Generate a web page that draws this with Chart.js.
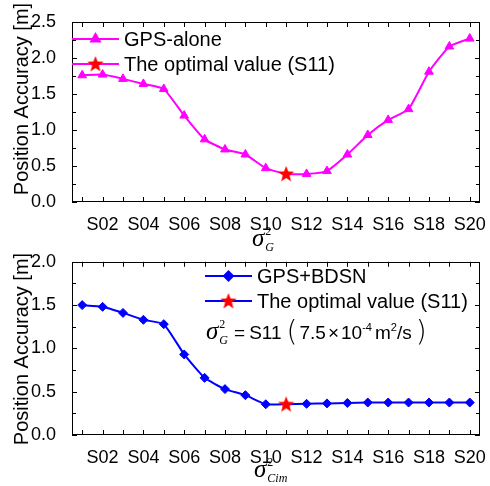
<!DOCTYPE html>
<html lang="en">
<head>
  <meta charset="UTF-8" />
  <title>Position Accuracy vs process noise</title>
  <script src="https://cdn.jsdelivr.net/npm/chart.js"></script>
  <style>
    body { margin: 0; background: #fff; font-family: 'Liberation Sans', Arial, sans-serif; }
    #wrap { position: relative; width: 490px; height: 486px; }
    .box { position: absolute; left: 0; width: 490px; height: 243px; }
    #topBox { top: 0; }
    #botBox { top: 243px; }
    .math { position: absolute; white-space: nowrap; color: #000; line-height: 20px; }
    .sig { font-family: 'Liberation Serif', serif; font-style: italic; font-size: 25px; }
    .sup { position: relative; top: -11px; margin-left: 1px; font-family: 'Liberation Serif', serif; font-size: 12px; }
    .sub { position: relative; top: 5px; font-family: 'Liberation Serif', serif; font-style: italic; font-size: 12px; }
    .txt { font-size: 19px; }
    .par { font-family: 'DejaVu Sans', sans-serif; font-weight: 200; font-size: 28px; position: relative; top: 2px; }
    .tsup { position: relative; top: -8px; font-size: 11px; }
  </style>
</head>
<body>
  <div id="wrap">
    <div class="box" id="topBox"><canvas id="topChart" width="490" height="243"></canvas></div>
    <div class="box" id="botBox"><canvas id="botChart" width="490" height="243"></canvas></div>

    <!-- axis titles and note, with sub/superscripts -->
    <div class="math" style="left:252px; top:228px;">
      <span class="sig">σ</span><span class="sup">2</span><span class="sub" style="margin-left:-6px;">G</span>
    </div>
    <div class="math" style="left:254px; top:459px;">
      <span class="sig">σ</span><span class="sup">2</span><span class="sub" style="margin-left:-6px;">Cim</span>
    </div>
    <div class="math" style="left:206px; top:320px;">
      <span class="sig">σ</span><span class="sup">2</span><span class="sub" style="margin-left:-6px;">G</span><span class="txt" style="margin-left:6px;">=</span><span class="txt" style="margin-left:4px;">S11</span><span class="par" style="margin-left:5px;">(</span><span class="txt" style="margin-left:2px;">7.5</span><span class="txt" style="margin:0 2px;">×</span><span class="txt">10</span><span class="tsup">-4</span><span class="txt" style="margin-left:3px;">m</span><span class="tsup">2</span><span class="txt">/s</span><span class="par" style="margin-left:4px;">)</span>
    </div>
  </div>

  <script>
    const catLabels = ["S01", "S02", "S03", "S04", "S05", "S06", "S07", "S08", "S09", "S10",
                       "S11", "S12", "S13", "S14", "S15", "S16", "S17", "S18", "S19", "S20"];
    const gpsAlone = [1.76, 1.77, 1.71, 1.64, 1.57, 1.20, 0.87, 0.73, 0.66, 0.47,
                      0.39, 0.39, 0.43, 0.66, 0.93, 1.14, 1.29, 1.81, 2.16, 2.27];
    const gpsBdsn = [1.50, 1.48, 1.41, 1.33, 1.28, 0.93, 0.66, 0.53, 0.46, 0.355,
                     0.355, 0.36, 0.365, 0.37, 0.375, 0.375, 0.375, 0.375, 0.375, 0.375];
    const optimalCat = "S11";
    const topTicks = [0.0, 0.5, 1.0, 1.5, 2.0, 2.5];
    const botTicks = [0.0, 0.5, 1.0, 1.5, 2.0];

    const FONT = "'Liberation Sans', Arial, sans-serif";

    // red filled star used as point style
    const star = document.createElement("canvas");
    star.width = 18; star.height = 18;
    (() => {
      const c = star.getContext("2d");
      c.beginPath();
      for (let i = 0; i < 10; i++) {
        const r = i % 2 === 0 ? 8.5 : 3.6;
        const a = -Math.PI / 2 + i * Math.PI / 5;
        c.lineTo(9 + r * Math.cos(a), 9.5 + r * Math.sin(a));
      }
      c.closePath();
      c.fillStyle = "#ff0000";
      c.fill();
    })();

    const onlyOptimal = arr => arr.map((v, i) => catLabels[i] === optimalCat ? v : null);

    // frame box plus inward ticks (majors and minors)
    const frameTicks = {
      id: "frameTicks",
      afterDraw(chart) {
        const { ctx, chartArea: a, scales: { x, y } } = chart;
        ctx.save();
        ctx.strokeStyle = "#000";
        ctx.lineWidth = 1;
        ctx.strokeRect(Math.round(a.left) + 0.5, Math.round(a.top) + 0.5,
          Math.round(a.right - a.left) - 1, Math.round(a.bottom - a.top) - 1);
        ctx.beginPath();
        x.ticks.forEach((t, i) => {
          const px = Math.round(x.getPixelForTick(i)) + 0.5;
          ctx.moveTo(px, a.bottom); ctx.lineTo(px, a.bottom - 5);
          ctx.moveTo(px, a.top); ctx.lineTo(px, a.top + 5);
        });
        for (let k = 0; k <= Math.round((y.max - y.min) / 0.25); k++) {
          const v = y.min + k * 0.25;
          const py = Math.round(y.getPixelForValue(v)) + 0.5;
          const len = k % 2 === 0 ? 5 : 4;
          ctx.moveTo(a.left, py); ctx.lineTo(a.left + len, py);
          ctx.moveTo(a.right, py); ctx.lineTo(a.right - len, py);
        }
        ctx.stroke();
        ctx.restore();
      }
    };

    // legend inside plot + rotated y title
    const decor = {
      id: "decor",
      afterDraw(chart, args, opts) {
        const { ctx } = chart;
        ctx.save();
        opts.items.forEach((it, i) => {
          const yy = opts.y + i * opts.dy;
          ctx.strokeStyle = it.color;
          ctx.lineWidth = 2;
          ctx.beginPath();
          ctx.moveTo(opts.x, yy); ctx.lineTo(opts.x + opts.len, yy);
          ctx.stroke();
          ctx.fillStyle = it.color;
          Chart.helpers.drawPoint(ctx, { pointStyle: it.style, radius: it.radius, rotation: 0, borderWidth: 1 },
            opts.x + opts.len / 2, yy);
          ctx.fillStyle = "#000";
          ctx.font = "20px " + FONT;
          ctx.textAlign = "left";
          ctx.textBaseline = "middle";
          ctx.fillText(it.text, opts.x + opts.len + 5, yy + 1);
        });
        ctx.translate(opts.titleX, opts.titleY);
        ctx.rotate(-Math.PI / 2);
        ctx.font = "20px " + FONT;
        ctx.textAlign = "center";
        ctx.textBaseline = "alphabetic";
        ctx.fillStyle = "#000";
        ctx.fillText("Position Accuracy [m]", 0, 0);
        ctx.restore();
      }
    };

    const makeChart = (id, data, color, style, radius, yMax, yTicks, pad, xHeight, legendCfg) => {
      new Chart(document.getElementById(id), {
        type: "line",
        data: {
          labels: catLabels,
          datasets: [
            {
              data: onlyOptimal(data),
              showLine: false,
              pointStyle: star,
              pointRadius: 8
            },
            {
              data,
              borderColor: color,
              backgroundColor: color,
              borderWidth: 2,
              tension: 0.15,
              pointStyle: style,
              pointRadius: data.map((v, i) => catLabels[i] === optimalCat ? 0 : radius),
              pointBorderWidth: 1
            }
          ]
        },
        options: {
          responsive: false,
          animation: false,
          layout: { padding: pad },
          plugins: {
            legend: { display: false },
            tooltip: { enabled: false },
            decor: legendCfg
          },
          scales: {
            x: {
              offset: true,
              grid: { display: false },
              border: { display: false },
              ticks: {
                autoSkip: false, maxRotation: 0, padding: 4, color: "#000",
                font: { family: FONT, size: 18 },
                callback: (v, i) => i % 2 === 1 ? catLabels[i] : ""
              },
              afterFit(s) { s.height = xHeight; }
            },
            y: {
              min: 0, max: yMax,
              grid: { display: false },
              border: { display: false },
              afterBuildTicks(s) { s.ticks = yTicks.map(v => ({ value: v })); },
              ticks: {
                padding: 8, color: "#000",
                font: { family: FONT, size: 18 },
                callback: v => v.toFixed(1)
              },
              afterFit(s) { s.width = 72; }
            }
          }
        },
        plugins: [frameTicks, decor]
      });
    };

    makeChart("topChart", gpsAlone, "#ff00ff", "triangle", 5, 2.5, topTicks,
      { top: 22, right: 7, left: 0, bottom: 0 }, 41,
      {
        x: 72, y: 39, dy: 25, len: 47, titleX: 28, titleY: 99,
        items: [
          { text: "GPS-alone", color: "#ff00ff", style: "triangle", radius: 5 },
          { text: "The optimal value (S11)", color: "#ff00ff", style: star, radius: 8 }
        ]
      });

    makeChart("botChart", gpsBdsn, "#0000ff", "rectRot", 4.5, 2.0, botTicks,
      { top: 13, right: 7, left: 0, bottom: 0 }, 51,
      {
        x: 205, y: 33, dy: 25, len: 47, titleX: 28, titleY: 106,
        items: [
          { text: "GPS+BDSN", color: "#0000ff", style: "rectRot", radius: 4.5 },
          { text: "The optimal value (S11)", color: "#0000ff", style: star, radius: 8 }
        ]
      });
  </script>
</body>
</html>
